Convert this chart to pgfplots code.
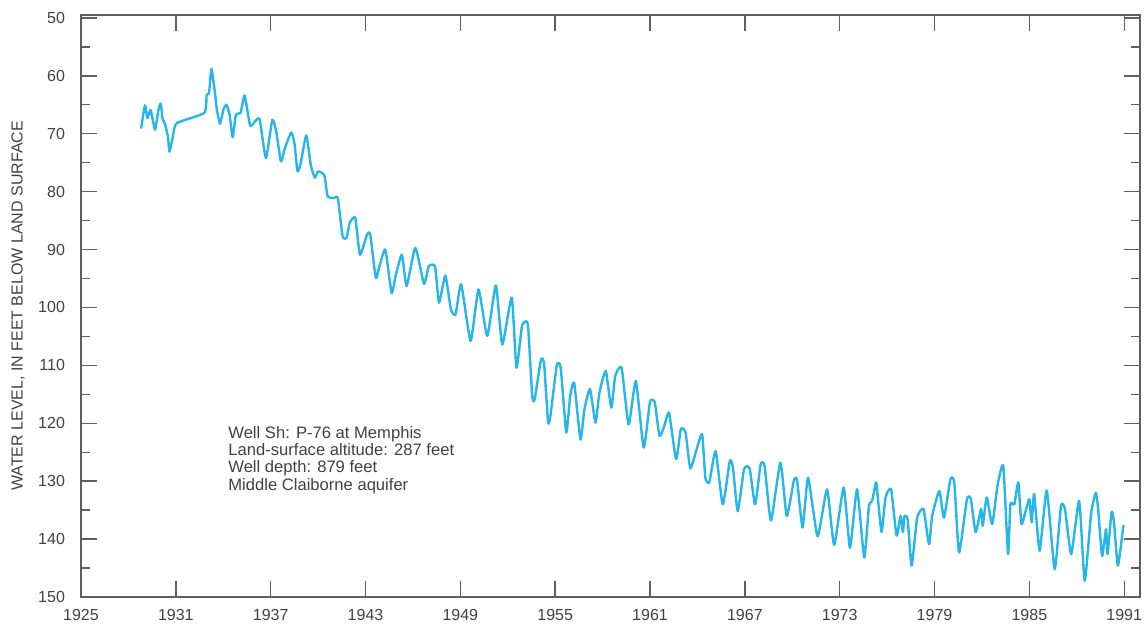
\documentclass[border=0pt]{standalone}
\usepackage{fontspec}
\setmainfont{Liberation Sans}
\usepackage{pgfplots}
\usepackage{pgfplotstable}
\pgfplotsset{compat=1.18}

\definecolor{hydro}{RGB}{38,182,232}
\definecolor{framegray}{RGB}{95,95,95}
\definecolor{labeltext}{RGB}{65,65,65}

% Water level in well Sh: P-76, feet below land surface
\pgfplotstableread{
year level
1928.8 69.1
1929.05 65.1
1929.2 67.3
1929.4 65.9
1929.6 68.4
1929.7 69.3
1929.9 65.9
1930.05 64.8
1930.15 67.3
1930.3 68.2
1930.5 70.5
1930.6 73.1
1930.8 70.7
1931.05 68.2
1932.8 66.4
1932.95 63.3
1933.1 63.0
1933.25 58.8
1933.45 62.4
1933.6 65.9
1933.8 68.3
1934.0 65.9
1934.2 65.0
1934.4 66.7
1934.6 70.6
1934.8 66.7
1935.1 66.4
1935.35 63.4
1935.7 68.6
1936.0 67.9
1936.3 67.5
1936.7 74.2
1937.1 67.6
1937.35 69.6
1937.65 74.8
1937.9 72.5
1938.3 69.8
1938.5 71.6
1938.7 76.5
1938.9 75.1
1939.25 70.3
1939.55 75.6
1939.8 77.6
1940.0 76.5
1940.4 77.2
1940.6 80.8
1941.0 81.1
1941.25 81.1
1941.55 87.7
1941.8 88.0
1942.0 85.4
1942.35 84.5
1942.65 90.9
1943.1 87.4
1943.3 87.4
1943.65 94.9
1943.85 93.2
1944.25 90.0
1944.65 97.5
1944.9 94.6
1945.3 90.9
1945.6 96.3
1946.15 89.7
1946.7 95.9
1947.0 92.9
1947.4 92.9
1947.65 99.2
1948.05 94.5
1948.4 100.3
1948.7 101.2
1949.05 96.0
1949.65 105.8
1950.15 96.9
1950.7 104.9
1951.25 96.2
1951.65 106.4
1952.25 98.3
1952.55 110.4
1952.9 103.2
1953.2 102.4
1953.3 103.8
1953.55 115.3
1953.7 115.9
1954.1 109.0
1954.3 109.8
1954.55 119.8
1954.7 118.7
1955.1 110.0
1955.35 110.4
1955.7 121.6
1955.95 115.3
1956.2 113.0
1956.6 122.8
1956.85 117.6
1957.2 114.1
1957.55 119.9
1957.8 114.7
1958.2 111.0
1958.55 117.3
1958.8 111.8
1959.2 110.4
1959.65 120.2
1960.1 112.7
1960.6 124.2
1961.0 116.3
1961.3 116.4
1961.6 122.2
1961.9 120.5
1962.2 118.2
1962.65 126.2
1962.95 121.0
1963.25 121.6
1963.55 127.8
1964.0 124.0
1964.3 121.9
1964.5 129.4
1964.75 130.2
1965.15 124.8
1965.6 134.0
1966.05 126.5
1966.25 127.7
1966.55 135.2
1966.95 127.9
1967.3 127.8
1967.65 134.0
1968.0 127.1
1968.25 127.4
1968.65 136.8
1969.25 126.8
1969.65 136.0
1970.1 129.9
1970.3 129.8
1970.65 138.0
1971.0 129.4
1971.6 139.5
1972.2 131.4
1972.65 141.0
1973.25 131.1
1973.65 141.5
1974.1 131.4
1974.55 143.2
1974.85 134.3
1975.05 133.4
1975.3 130.2
1975.4 132.5
1975.65 138.8
1975.9 132.8
1976.25 131.4
1976.6 139.4
1976.85 136.0
1977.0 138.8
1977.1 136.0
1977.3 136.6
1977.55 144.6
1977.9 136.3
1978.3 134.8
1978.65 140.9
1978.85 136.0
1979.3 131.7
1979.6 136.3
1980.0 129.7
1980.25 130.2
1980.55 142.3
1981.05 133.1
1981.3 133.1
1981.6 138.8
1981.95 134.8
1982.05 137.7
1982.3 132.8
1982.65 137.4
1983.0 130.5
1983.35 127.4
1983.65 142.6
1983.8 134.0
1984.05 134.0
1984.3 130.2
1984.5 137.4
1984.8 134.8
1985.0 133.1
1985.15 137.1
1985.3 132.2
1985.65 142.0
1986.1 131.6
1986.6 145.2
1987.0 134.3
1987.25 134.8
1987.65 142.6
1988.15 133.4
1988.5 147.2
1988.9 135.7
1989.2 132.0
1989.35 134.8
1989.6 142.9
1989.85 138.3
1989.95 142.6
1990.2 135.3
1990.35 137.0
1990.6 144.6
1990.95 137.6
}\welldata

\begin{document}
\begin{tikzpicture}
\path[use as bounding box] (-40.5pt,-16.5pt) rectangle (531.5pt,298.5pt);
\begin{axis}[
  at={(0,0)}, anchor=south west,
  scale only axis, width=529.5pt, height=291pt,
  xmin=1925, xmax=1992, ymin=49.5, ymax=150,
  y dir=reverse,
  xtick={1925,1931,...,1991}, minor x tick num=5,
  ytick={50,60,...,150}, minor y tick num=1,
  tick align=inside,
  major tick length=8pt, minor tick length=4.6pt,
  axis line style={framegray, line width=0.75pt},
  every tick/.style={framegray, line width=0.7pt},
  tick label style={font=\fontsize{8}{9}\selectfont, text=labeltext},
  xticklabel style={yshift=-2.5pt},
  yticklabel style={xshift=-4.5pt},
  /pgf/number format/assume math mode=true,
  /pgf/number format/1000 sep={},
  ylabel={WATER LEVEL, IN FEET BELOW LAND SURFACE},
  every axis y label/.style={at={(axis description cs:-0.0595,0.5)}, anchor=center, rotate=90, font=\fontsize{8}{9}\selectfont, text=labeltext},
]
\addplot[hydro, line width=1.2pt, line join=round, smooth, tension=0.3] table[x=year, y=level] {\welldata};
\node[anchor=north west, inner sep=0pt, align=left, font=\fontsize{8.3}{8.7}\selectfont, text=labeltext]
  at (axis cs:1934.3,120.4)
  {Well Sh: P-76 at Memphis\\Land-surface altitude: 287 feet\\Well depth: 879 feet\\Middle Claiborne aquifer};
\end{axis}
\end{tikzpicture}
\end{document}
